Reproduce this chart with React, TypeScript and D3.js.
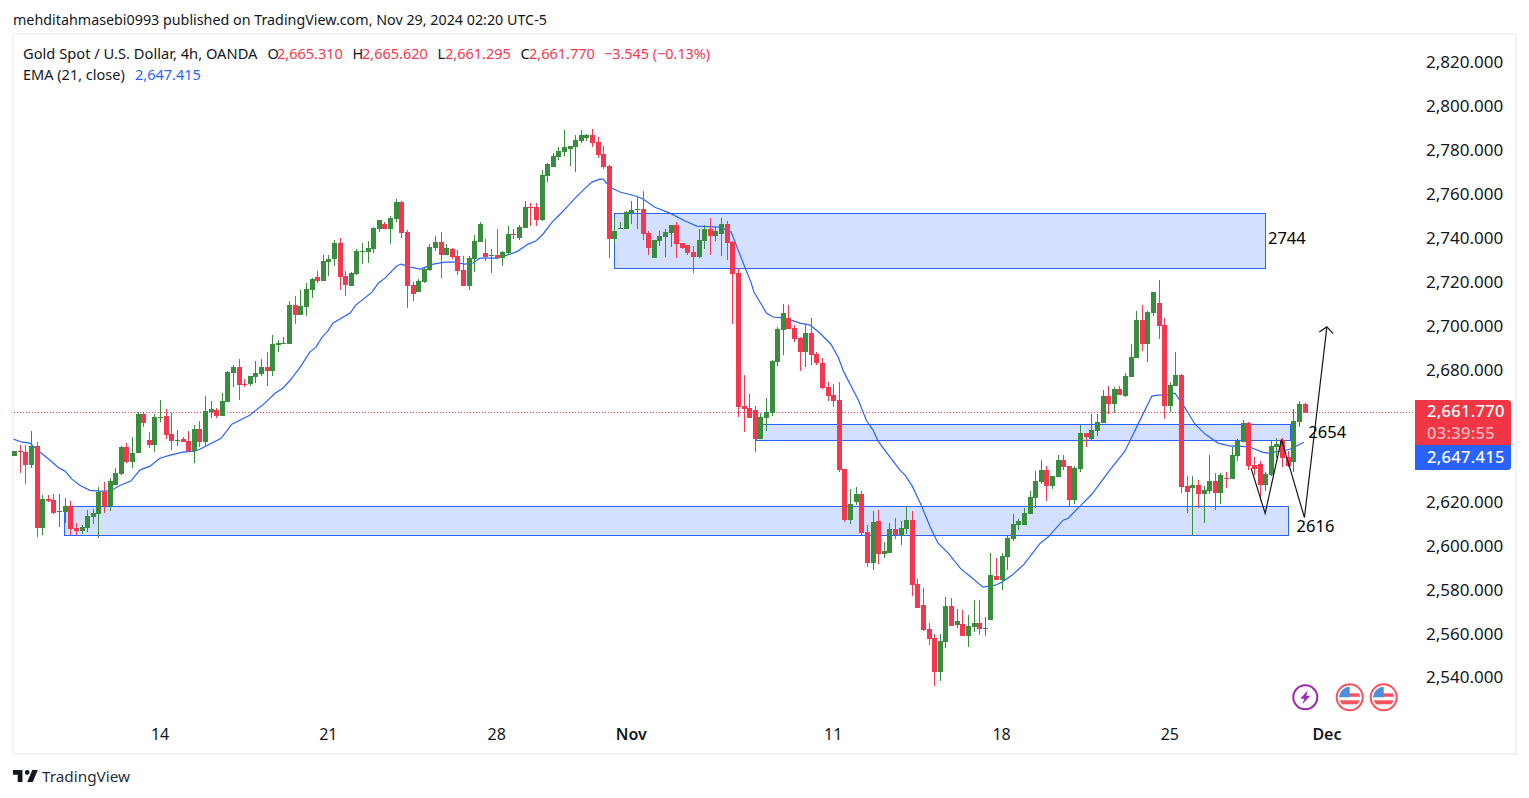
import React, { useEffect, useRef } from 'react'
import * as d3 from 'd3'

const opens = [
  2640.6,2642.8,2642.4,2636.4,2645.1,2607.7,2620.9,2620.5,2615.0,2615.0,
  2617.8,2607.7,2606.4,2607.7,2612.7,2614.1,2624.1,2617.8,2627.3,2632.4,
  2644.6,2637.8,2641.9,2659.6,2647.8,2645.5,2657.8,2658.7,2650.6,2647.4,
  2648.3,2647.4,2642.8,2652.8,2646.9,2660.6,2661.5,2658.7,2665.1,2678.3,
  2681.1,2673.3,2673.3,2676.5,2677.9,2681.1,2679.3,2691.1,2691.5,2691.5,
  2709.3,2704.8,2708.4,2716.1,2722.1,2720.2,2728.9,2730.3,2737.6,2722.5,
  2718.0,2723.4,2733.4,2733.4,2734.8,2743.9,2746.2,2743.9,2748.5,2756.2,
  2742.6,2718.4,2715.2,2719.8,2725.2,2735.3,2738.0,2732.1,2734.8,2731.6,
  2725.2,2718.0,2730.3,2738.0,2733.0,2731.6,2732.1,2730.7,2733.0,2741.7,
  2739.8,2744.4,2753.9,2753.9,2748.0,2768.1,2772.1,2776.7,2779.0,2780.4,
  2781.3,2784.0,2785.4,2786.7,2783.5,2778.1,2772.6,2739.4,2743.9,2743.9,
  2751.2,2752.6,2753.0,2742.1,2730.7,2738.5,2740.3,2742.1,2745.7,2737.6,
  2736.6,2733.4,2731.2,2738.5,2743.9,2740.7,2741.7,2746.2,2738.0,2723.9,
  2663.3,2662.4,2661.5,2648.3,2657.8,2660.1,2683.4,2697.9,2703.4,2698.8,
  2694.3,2687.9,2696.6,2687.0,2682.9,2672.0,2668.3,2666.0,2634.6,2611.4,
  2619.6,2623.2,2605.9,2591.8,2610.9,2595.9,2596.4,2607.3,2604.1,2607.3,
  2611.4,2582.3,2572.7,2561.7,2557.6,2542.2,2555.8,2572.2,2563.6,2564.0,
  2558.5,2562.7,2564.5,2561.8,2565.8,2585.9,2584.1,2594.6,2602.7,2609.1,
  2609.1,2614.1,2621.4,2628.7,2634.2,2626.9,2631.0,2638.7,2635.9,2620.5,
  2634.6,2651.0,2648.3,2651.9,2655.5,2667.8,2664.2,2671.1,2667.8,2676.5,
  2685.2,2702.5,2691.5,2705.7,2710.2,2700.2,2663.3,2672.4,2677.4,2626.9,
  2625.9,2627.3,2623.2,2624.6,2629.2,2623.7,2630.5,2630.1,2640.6,2646.9,
  2655.5,2636.4,2636.9,2627.3,2631.9,2644.6,2647.8,2640.1,2637.8,2656.0,2664.2,
]
const highs = [
  2643.0,2645.5,2645.5,2651.9,2646.9,2622.8,2622.8,2623.2,2623.2,2621.4,
  2620.0,2610.0,2609.1,2615.9,2616.4,2626.4,2628.7,2630.5,2635.0,2645.1,
  2646.4,2649.2,2660.6,2660.6,2651.5,2659.6,2666.0,2661.9,2660.1,2652.4,
  2649.2,2651.9,2654.6,2656.5,2667.8,2665.6,2662.4,2669.2,2679.3,2682.0,
  2684.7,2675.6,2677.0,2683.8,2684.7,2687.9,2695.7,2693.4,2694.8,2711.1,
  2713.4,2716.1,2719.3,2721.6,2724.8,2732.0,2732.1,2738.9,2739.8,2724.8,
  2724.3,2734.8,2737.6,2738.5,2744.8,2748.0,2747.1,2749.8,2757.6,2756.7,
  2743.5,2719.8,2721.2,2726.2,2737.1,2740.7,2742.6,2737.1,2735.3,2734.4,
  2731.6,2731.6,2741.2,2747.1,2739.4,2734.8,2743.9,2733.9,2745.3,2743.9,
  2745.7,2756.7,2755.8,2755.8,2770.8,2774.0,2778.5,2781.3,2789.0,2781.7,
  2786.7,2789.0,2787.2,2789.4,2785.8,2781.7,2773.1,2748.9,2747.1,2752.1,
  2756.7,2758.5,2761.2,2743.0,2738.9,2743.0,2743.9,2745.7,2747.1,2737.6,
  2736.6,2736.2,2743.9,2745.7,2748.9,2744.8,2748.9,2747.6,2738.5,2726.2,
  2677.4,2668.8,2663.3,2660.1,2666.9,2684.3,2699.3,2709.8,2709.3,2700.2,
  2694.8,2700.2,2703.4,2687.9,2685.2,2674.2,2673.3,2674.2,2634.6,2625.5,
  2626.4,2624.6,2609.1,2615.5,2615.9,2601.4,2610.0,2612.3,2610.9,2617.8,
  2615.5,2584.5,2580.4,2564.5,2559.4,2559.4,2576.3,2575.9,2570.8,2570.4,
  2568.1,2574.9,2574.9,2567.2,2596.4,2594.1,2596.4,2604.1,2614.1,2611.8,
  2616.8,2624.6,2633.7,2638.7,2636.0,2631.4,2641.0,2641.0,2635.9,2635.9,
  2654.6,2651.0,2659.6,2659.6,2670.6,2672.4,2672.0,2672.4,2678.3,2691.5,
  2706.6,2709.3,2706.6,2715.2,2720.7,2703.4,2674.2,2687.9,2677.9,2631.4,
  2631.4,2629.6,2626.9,2641.0,2632.8,2632.8,2633.3,2644.6,2648.3,2656.9,
  2656.0,2640.1,2638.3,2633.3,2647.4,2648.7,2648.7,2642.8,2661.9,2665.6,2664.7,
]
const lows = [
  2640.6,2632.8,2627.8,2635.0,2603.7,2604.6,2619.6,2614.1,2608.2,2610.0,
  2604.6,2604.6,2605.0,2605.9,2609.6,2603.2,2614.5,2615.5,2627.3,2631.9,
  2637.4,2635.0,2641.9,2653.7,2644.2,2642.4,2656.0,2648.3,2643.3,2645.1,
  2646.9,2642.4,2637.4,2644.6,2644.6,2657.8,2657.8,2658.7,2665.1,2672.0,
  2666.0,2672.0,2672.4,2673.8,2677.0,2672.4,2677.0,2687.9,2691.5,2691.5,
  2700.7,2704.8,2704.3,2712.5,2719.3,2720.2,2722.5,2727.1,2716.1,2713.4,
  2718.0,2723.0,2728.0,2728.5,2733.0,2742.6,2743.9,2737.1,2747.1,2739.8,
  2708.0,2711.1,2715.2,2719.3,2724.8,2733.9,2721.6,2732.1,2730.3,2723.0,
  2718.0,2716.1,2724.3,2738.0,2729.3,2723.9,2730.3,2727.1,2732.1,2739.4,
  2738.9,2744.4,2745.3,2745.3,2747.6,2765.3,2772.1,2775.3,2777.2,2772.6,
  2769.9,2783.1,2784.0,2781.3,2776.2,2771.2,2730.7,2737.6,2743.9,2743.9,
  2746.2,2743.9,2738.9,2732.1,2730.7,2736.2,2731.2,2735.7,2730.7,2734.8,
  2732.1,2723.9,2730.7,2734.8,2732.1,2738.5,2731.6,2729.8,2700.7,2658.3,
  2651.5,2657.8,2642.4,2648.3,2651.9,2658.7,2681.5,2686.5,2698.4,2692.5,
  2679.3,2681.1,2682.0,2682.0,2671.1,2665.6,2662.9,2633.3,2610.5,2609.6,
  2618.2,2604.6,2590.0,2588.6,2591.3,2594.1,2596.4,2602.7,2600.0,2605.0,
  2576.8,2571.3,2560.8,2554.5,2535.8,2538.1,2553.1,2563.1,2562.2,2558.5,
  2553.5,2560.4,2559.0,2558.5,2565.8,2584.1,2579.5,2588.6,2601.8,2606.8,
  2609.1,2614.1,2616.8,2627.8,2620.0,2625.5,2631.0,2634.2,2617.8,2618.7,
  2633.3,2644.6,2647.8,2649.6,2655.5,2659.6,2660.1,2668.3,2667.4,2676.5,
  2685.2,2688.4,2683.4,2704.3,2693.8,2657.4,2660.6,2672.4,2623.7,2614.5,
  2604.1,2616.8,2610.0,2623.2,2615.9,2618.7,2626.0,2630.1,2638.3,2646.9,
  2634.2,2631.9,2620.0,2624.6,2631.4,2639.6,2635.5,2635.5,2633.3,2653.7,2660.1,
]
const closes = [
  2643.0,2642.4,2636.4,2645.1,2607.7,2620.9,2620.0,2614.5,2615.5,2617.8,
  2607.3,2606.4,2608.2,2613.2,2614.5,2624.1,2617.8,2629.2,2632.8,2644.6,
  2637.8,2641.9,2659.6,2655.5,2645.5,2658.3,2658.3,2650.1,2647.4,2647.8,
  2646.9,2642.8,2652.8,2646.9,2661.0,2661.9,2658.7,2665.6,2678.8,2681.1,
  2672.9,2672.9,2677.0,2678.3,2681.1,2679.3,2691.5,2692.0,2692.0,2709.3,
  2704.8,2708.8,2716.6,2721.2,2720.2,2729.3,2730.3,2737.6,2722.1,2718.4,
  2723.9,2733.9,2733.9,2735.3,2744.4,2748.0,2743.9,2748.9,2756.2,2742.1,
  2718.0,2714.3,2720.2,2725.7,2735.7,2738.0,2732.1,2735.3,2731.2,2724.8,
  2718.0,2730.7,2738.5,2746.2,2731.2,2732.1,2730.7,2733.4,2741.7,2741.2,
  2744.8,2753.9,2753.5,2748.0,2768.5,2773.5,2777.2,2779.4,2781.3,2781.7,
  2784.5,2786.7,2786.7,2783.1,2777.6,2772.1,2739.4,2743.0,2744.4,2751.7,
  2752.6,2753.0,2741.7,2735.3,2738.9,2740.7,2742.6,2745.7,2737.1,2735.3,
  2733.0,2731.2,2738.9,2743.9,2740.7,2743.0,2746.2,2737.6,2723.4,2662.9,
  2661.9,2657.8,2648.3,2658.3,2660.6,2683.8,2698.4,2705.7,2698.4,2693.8,
  2687.9,2696.6,2686.5,2682.9,2671.5,2667.8,2665.6,2634.2,2611.4,2618.7,
  2623.2,2605.5,2591.8,2610.5,2595.9,2597.3,2607.3,2604.6,2607.7,2611.4,
  2581.8,2571.3,2561.3,2557.2,2542.2,2556.3,2572.2,2563.1,2565.4,2558.5,
  2563.1,2564.5,2561.8,2562.2,2586.4,2584.1,2595.0,2603.2,2609.6,2610.9,
  2614.5,2621.9,2629.2,2634.2,2626.9,2631.4,2638.7,2635.5,2620.5,2635.0,
  2651.0,2649.2,2652.4,2656.0,2667.8,2664.2,2671.1,2668.3,2677.0,2685.6,
  2702.5,2691.5,2706.1,2715.2,2699.7,2663.3,2672.9,2677.4,2626.4,2624.1,
  2627.3,2623.2,2625.0,2629.2,2623.7,2631.9,2630.1,2641.0,2647.4,2655.5,
  2636.0,2634.6,2627.3,2632.4,2645.1,2646.0,2639.6,2636.0,2656.5,2664.2,2660.1,
]

// EMA: bar position (fractional) and price
const emaBars = [
  -0.2,1.3,2.7,4.5,6.3,7.7,9.0,10.2,11.6,13.4,15.2,17.0,18.8,20.7,22.3,24.1,25.9,27.7,30.0,32.1,
  33.0,36.8,38.7,41.9,44.6,46.4,47.8,49.1,50.9,52.6,53.7,54.8,55.8,56.7,59.8,60.8,63.7,64.8,66.0,68.1,
  68.9,70.5,72.3,74.6,76.7,78.5,80.2,81.7,82.9,86.1,88.3,89.7,91.5,92.9,94.2,95.8,97.2,98.6,99.9,101.7,
  102.9,104.3,104.9,106.1,107.9,110.8,112.0,114.1,116.8,119.5,121.6,125.7,127.7,128.9,130.2,131.1,131.8,134.0,135.2,137.3,
  140.0,141.8,143.5,145.5,146.8,147.8,150.4,151.8,153.0,153.9,155.5,157.8,158.7,160.0,161.6,163.2,164.6,166.4,168.7,170.3,
  172.6,174.8,176.0,177.8,179.9,182.8,184.2,186.9,187.8,189.5,192.0,195.2,197.9,200.5,202.7,203.8,205.0,206.8,208.3,210.4,
  212.2,214.5,216.7,218.4,220.2,222.4,223.4,225.6,227.3,229.8,
]
const emaValues = [
  2648.3,2646.9,2646.5,2642.4,2638.7,2635.5,2633.7,2630.1,2627.3,2625.0,2624.6,2624.6,2627.3,2629.2,2634.2,2636.0,2639.6,2641.0,2642.4,2642.8,
  2643.7,2648.7,2655.1,2659.2,2664.7,2669.2,2671.5,2675.1,2681.1,2687.9,2690.2,2694.8,2697.5,2701.1,2705.7,2709.3,2715.2,2719.3,2721.6,2727.1,
  2728.0,2726.6,2725.7,2728.0,2728.9,2728.9,2728.0,2728.5,2730.7,2730.7,2732.5,2733.9,2737.1,2738.5,2741.7,2747.1,2750.7,2754.4,2758.0,2762.6,
  2765.3,2766.7,2766.7,2763.0,2760.8,2758.9,2757.6,2753.9,2751.2,2747.6,2745.3,2744.8,2742.6,2734.8,2726.2,2720.7,2715.2,2705.7,2703.9,2703.4,
  2701.1,2700.2,2696.6,2691.5,2685.6,2678.8,2666.0,2656.9,2652.4,2647.4,2641.9,2634.2,2631.9,2626.9,2618.2,2608.2,2600.9,2596.4,2589.1,2585.9,
  2580.9,2581.8,2583.2,2586.4,2591.3,2600.9,2603.7,2611.4,2612.3,2616.8,2623.2,2634.2,2642.8,2656.5,2667.9,2668.3,2668.3,2669.2,2663.8,2655.1,
  2650.6,2646.5,2645.1,2645.1,2644.6,2642.4,2641.9,2642.8,2643.7,2646.9,
]

// supply/demand boxes drawn by the author
const zoneStart = [106.9, 132.3, 8.84]
const zoneEnd = [223, 227.5, 227.1]
const zoneTop = [2751.1, 2655.0, 2617.5]
const zoneBottom = [2726.0, 2647.7, 2604.4]

// hand drawn zigzag with arrow
const pathBars = [220.4, 222.9, 225.8, 229.9, 233.9]
const pathPrices = [2635.0, 2614.5, 2648.2, 2612.6, 2699.4]

const noteLabels = ['2744', '2654', '2616']
const noteBars = [223.4, 230.6, 228.5]
const notePrices = [2739.8, 2651.4, 2608.6]

// 2,640 and 2,660 are covered by the price tags, the scale does not print them
const priceTicks = [2540, 2560, 2580, 2600, 2620, 2680, 2700, 2720, 2740, 2760, 2780, 2800, 2820]
const timeTickBars = [26, 56, 86, 110, 146, 176, 206, 234]
const timeTickLabels = ['14', '21', '28', 'Nov', '11', '18', '25', 'Dec']
const monthLabels = ['Nov', 'Dec']
const priceLineLevel = 2660.6

const RED = '#f7374f'
const GREEN = '#388e3c'
const BLUE = '#2962ff'
const INK = '#131722'
const FONT = '"Noto Sans", sans-serif'

const App = () => {
  const ref = useRef<SVGSVGElement>(null)

  useEffect(() => {
    const svg = d3.select(ref.current)
    svg.selectAll('*').remove()

    const x = d3.scaleLinear().domain([0, 230]).range([14.7, 1305])
    const y = d3.scaleLinear().domain([2820, 2540]).range([62, 677])
    const snap = (v: number) => Math.round(v - 0.5) + 0.5

    svg.append('rect')
      .attr('x', 13).attr('y', 34)
      .attr('width', 1503).attr('height', 720)
      .attr('fill', 'white')
      .attr('stroke', '#f0f3fa')
      .attr('stroke-width', 2)

    const defs = svg.append('defs')
    defs.append('clipPath').attr('id', 'flagClip')
      .append('circle').attr('r', 10.5)
    defs.append('marker')
      .attr('id', 'arrow')
      .attr('markerUnits', 'userSpaceOnUse')
      .attr('viewBox', '-10 -10 12 20')
      .attr('markerWidth', 12).attr('markerHeight', 20)
      .attr('orient', 'auto')
      .append('path')
      .attr('d', 'M-6,-7L0,0L-6,7')
      .attr('fill', 'none')
      .attr('stroke', INK)
      .attr('stroke-width', 1.2)

    // zones sit under everything else
    svg.append('g').selectAll('rect')
      .data(zoneStart)
      .join('rect')
      .attr('x', d => snap(x(d)))
      .attr('y', (_, i) => snap(y(zoneTop[i])))
      .attr('width', (d, i) => snap(x(zoneEnd[i])) - snap(x(d)))
      .attr('height', (_, i) => snap(y(zoneBottom[i])) - snap(y(zoneTop[i])))
      .attr('fill', 'rgba(41, 98, 255, 0.2)')
      .attr('stroke', BLUE)
      .attr('stroke-width', 1)

    svg.append('line')
      .attr('x1', 14).attr('x2', 1415)
      .attr('y1', snap(y(priceLineLevel)))
      .attr('y2', snap(y(priceLineLevel)))
      .attr('stroke', RED)
      .attr('stroke-width', 1)
      .attr('stroke-dasharray', '1 2')

    const emaLine = d3.line<number>()
      .x(d => x(d))
      .y((_, i) => y(emaValues[i]))

    svg.append('path')
      .attr('d', emaLine(emaBars))
      .attr('fill', 'none')
      .attr('stroke', BLUE)
      .attr('stroke-width', 1.2)

    const candles = svg.append('g')
      .attr('shape-rendering', 'crispEdges')
      .selectAll('g')
      .data(opens)
      .join('g')
      .attr('fill', (d, i) => (closes[i] >= d ? GREEN : RED))

    candles.append('rect')
      .attr('x', (_, i) => Math.round(x(i) - 0.5))
      .attr('width', 1)
      .attr('y', (_, i) => Math.round(y(highs[i])))
      .attr('height', (_, i) => Math.max(1, Math.round(y(lows[i])) - Math.round(y(highs[i]))))

    candles.append('rect')
      .attr('x', (_, i) => Math.round(x(i) - 2.5))
      .attr('width', 5)
      .attr('y', (d, i) => Math.round(y(Math.max(d, closes[i]))))
      .attr('height', (d, i) => Math.max(1, Math.round(y(Math.min(d, closes[i]))) - Math.round(y(Math.max(d, closes[i])))))

    const zigzag = d3.line<number>()
      .x(d => x(d))
      .y((_, i) => y(pathPrices[i]))

    svg.append('path')
      .attr('d', zigzag(pathBars))
      .attr('fill', 'none')
      .attr('stroke', INK)
      .attr('stroke-width', 1.2)
      .attr('marker-end', 'url(#arrow)')

    svg.append('g').selectAll('text')
      .data(noteLabels)
      .join('text')
      .attr('x', (_, i) => x(noteBars[i]))
      .attr('y', (_, i) => y(notePrices[i]))
      .attr('dy', '0.35em')
      .attr('font-family', FONT)
      .attr('font-size', 16.5)
      .attr('fill', 'black')
      .text(d => d)

    const priceAxis = d3.axisRight(y)
      .tickValues(priceTicks)
      .tickSize(0)
      .tickPadding(0)
      .tickFormat(d3.format(',.3f') as any)

    svg.append('g')
      .attr('transform', 'translate(1426, 0.5)')
      .call(priceAxis)
      .call(g => g.select('.domain').remove())
      .call(g => g.selectAll('text')
        .attr('font-family', FONT)
        .attr('font-size', 17)
        .attr('fill', INK))

    const timeAxis = d3.axisBottom(d3.scaleLinear().domain(x.domain()).range(x.range()))
      .tickValues(timeTickBars)
      .tickSize(0)
      .tickPadding(0)
      .tickFormat((_, i) => timeTickLabels[i])

    svg.append('g')
      .attr('transform', 'translate(-1, 729)')
      .call(timeAxis)
      .call(g => g.select('.domain').remove())
      .call(g => g.selectAll('text')
        .attr('font-family', FONT)
        .attr('font-size', 16)
        .attr('font-weight', d => (monthLabels.includes(timeTickLabels[timeTickBars.indexOf(d as number)]) ? 600 : 400))
        .attr('fill', INK))

    // last price + countdown + ema tags on the scale
    svg.append('path')
      .attr('d', 'M1415,400H1508a3,3 0 0 1 3,3V445H1415Z')
      .attr('fill', '#f23645')
    svg.append('path')
      .attr('d', 'M1415,445H1511V467a3,3 0 0 1 -3,3H1415Z')
      .attr('fill', BLUE)

    const tag = (text: string, ty: number, opacity: number) => {
      svg.append('text')
        .attr('x', 1427).attr('y', ty)
        .attr('dy', '0.35em')
        .attr('font-family', FONT)
        .attr('font-size', 16.5)
        .attr('letter-spacing', 0.3)
        .attr('font-weight', 500)
        .attr('fill', 'white')
        .attr('fill-opacity', opacity)
        .text(text)
    }
    tag('2,661.770', 411, 1)
    tag('03:39:55', 433.5, 0.65)
    tag('2,647.415', 457, 1)

    // header and legend
    const label = (text: string, lx: number, ly: number, fill: string, size = 14.5) => {
      svg.append('text')
        .attr('x', lx).attr('y', ly)
        .attr('dy', '0.35em')
        .attr('font-family', FONT)
        .attr('font-size', size)
        .attr('fill', fill)
        .text(text)
    }
    label('mehditahmasebi0993 published on TradingView.com, Nov 29, 2024 02:20 UTC-5', 13, 20, INK, 14.3)
    label('Gold Spot / U.S. Dollar, 4h, OANDA', 23, 54, INK, 14.7)
    label('O', 267.5, 54, INK)
    label('2,665.310', 277, 54, RED)
    label('H', 352.5, 54, INK)
    label('2,665.620', 362, 54, RED)
    label('L', 437.5, 54, INK)
    label('2,661.295', 445, 54, RED)
    label('C', 520.5, 54, INK)
    label('2,661.770', 529, 54, RED)
    label('−3.545 (−0.13%)', 604, 54, RED, 14.4)
    label('EMA (21, close)', 23, 75, INK)
    label('2,647.415', 135, 75, BLUE)

    // event badges
    const bolt = svg.append('g').attr('transform', 'translate(1305.3, 697.3)')
    bolt.append('circle').attr('r', 12).attr('fill', 'white').attr('stroke', '#9c27b0').attr('stroke-width', 2)
    bolt.append('path').attr('d', 'M2.5,-7L-5,1.5H-1L-3,7L5,-1.5H1Z').attr('fill', '#9c27b0')

    const flagAt = (fx: number) => {
      const g = svg.append('g').attr('transform', `translate(${fx}, 697.3)`)
      g.append('circle').attr('r', 13).attr('fill', 'white').attr('stroke', '#f7525f').attr('stroke-width', 2)
      const f = g.append('g').attr('clip-path', 'url(#flagClip)')
      f.append('rect').attr('x', -11).attr('y', -11).attr('width', 22).attr('height', 22).attr('fill', 'white')
      f.append('rect').attr('x', -11).attr('y', -4).attr('width', 22).attr('height', 3.5).attr('fill', '#f7525f')
      f.append('rect').attr('x', -11).attr('y', 3).attr('width', 22).attr('height', 4).attr('fill', '#f7525f')
      f.append('rect').attr('x', -11).attr('y', -11).attr('width', 11).attr('height', 11).attr('fill', '#4a8fe0')
    }
    flagAt(1349.7)
    flagAt(1383.7)

    // TradingView mark and name
    svg.append('path')
      .attr('transform', 'translate(11.4, 765.3) scale(0.79)')
      .attr('d', 'M14 6H2v6h6v9h6V6Zm13 15h-7l6.5-15h7L27 21Zm-7-9a3 3 0 1 0 0-6 3 3 0 0 0 0 6Z')
      .attr('fill', INK)
    label('TradingView', 42, 776.5, '#2a2e39', 15.3)
  }, [])

  return (
    <svg
      ref={ref}
      width={1529}
      height={798}
      style={{ position: 'absolute', left: 0, top: 0, display: 'block', background: 'white' }}
    />
  )
}

export default App
